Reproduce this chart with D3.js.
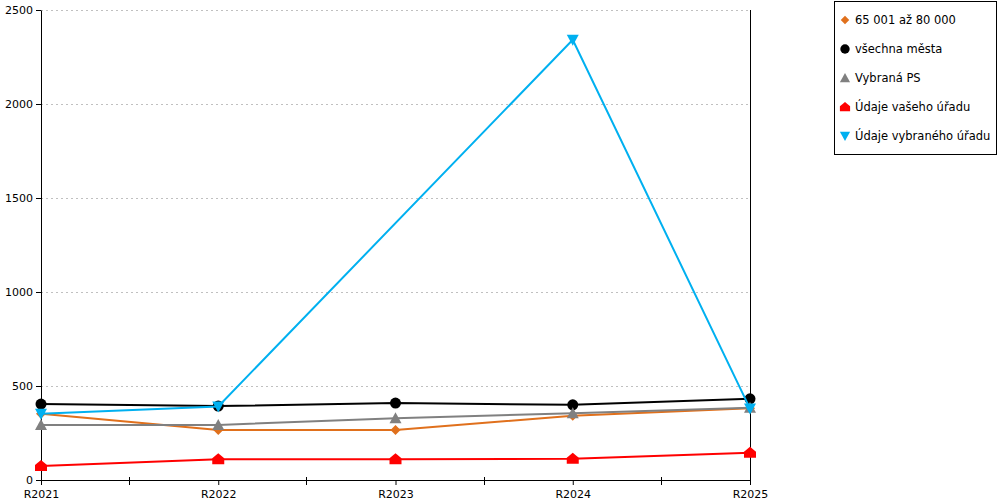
<!DOCTYPE html>
<html><head><meta charset="utf-8">
<script src="https://cdn.jsdelivr.net/npm/d3@7"></script>
<style>body{margin:0;background:#fff}svg{display:block;font-family:"DejaVu Sans",Verdana,sans-serif}</style>
</head><body><svg id="c" width="1000" height="500"></svg>
<script>
const categories = ["R2021","R2022","R2023","R2024","R2025"];
const seriesNames = ["65 001 až 80 000","všechna města","Vybraná PS","Údaje vašeho úřadu","Údaje vybraného úřadu"];
const sOrange = [353, 266, 266, 342, 382];
const sBlack  = [404, 393, 409, 400, 432];
const sGray   = [293, 293, 328, 355, 384];
const sRed    = [74, 110, 110, 113, 145];
const sBlue   = [352, 391, null, 2342, 380];
const yTicks = [0,500,1000,1500,2000,2500];
const colors = ["#E0701C","#000000","#808080","#FF0000","#00B0F0"];
const symbols = ["diamond","circle","triangle","house","down"];
const allSeries = [sOrange,sBlack,sGray,sRed,sBlue];

const svg = d3.select("#c");
const L=41,R=750,T=10,B=480;
const x = d3.scalePoint().domain(categories).range([L,R]);
const y = d3.scaleLinear().domain([0,2500]).range([B,T]);

// grid
svg.append("g").selectAll("line").data(yTicks.filter(d=>d>0)).join("line")
 .attr("x1",L).attr("x2",R).attr("y1",d=>y(d)).attr("y2",d=>y(d))
 .attr("stroke","#c0c0c0").attr("stroke-dasharray","2,3").attr("shape-rendering","crispEdges");

// y axis
const ya = svg.append("g").attr("transform",`translate(${L},0)`)
 .call(d3.axisLeft(y).tickValues(yTicks).tickFormat(d3.format("d")).tickSize(5).tickSizeOuter(0).tickPadding(3));
ya.select(".domain").attr("stroke","#000");
ya.selectAll("text").attr("font-size",11).attr("font-family","DejaVu Sans").attr("fill","#000");
// right line
svg.append("line").attr("x1",R).attr("x2",R).attr("y1",T).attr("y2",B).attr("stroke","#000").attr("shape-rendering","crispEdges");

// x axis
const xa = svg.append("g").attr("transform",`translate(0,${B})`).call(d3.axisBottom(x).tickSize(5).tickSizeOuter(0));
xa.select(".domain").attr("stroke","#000");
xa.selectAll("text").attr("font-size",11).attr("font-family","DejaVu Sans").attr("fill","#000").attr("y",18).attr("dy",0);
// midpoint ticks
const mids = categories.slice(1).map((c,i)=>(x(categories[i])+x(c))/2);
svg.append("g").selectAll("line").data(mids).join("line")
 .attr("x1",d=>d).attr("x2",d=>d).attr("y1",B-3).attr("y2",B+5).attr("stroke","#000").attr("shape-rendering","crispEdges");

function marker(g, type, color, cx, cy, s){
  s = s||1;
  let p;
  if(type==="circle"){ g.append("circle").attr("cx",cx).attr("cy",cy).attr("r",5.5*s).attr("fill",color); return; }
  if(type==="diamond") p=[[0,-5],[5,0],[0,5],[-5,0]];
  if(type==="triangle") p=[[0,-6],[6,5],[-6,5]];
  if(type==="down") p=[[-6,-5],[6,-5],[0,6]];
  if(type==="house") p=[[0,-6],[6,-1],[6,5],[-6,5],[-6,-1]];
  g.append("polygon").attr("points",p.map(q=>[cx+q[0]*s,cy+q[1]*s].join(",")).join(" ")).attr("fill",color);
}

const line = d3.line().x(d=>x(d.c)).y(d=>y(d.v));
allSeries.forEach((s,i)=>{
  const pts = s.map((v,j)=>({c:categories[j],v})).filter(d=>d.v!==null);
  const g = svg.append("g");
  g.append("path").datum(pts).attr("d",line).attr("fill","none").attr("stroke",colors[i]).attr("stroke-width",2);
  pts.forEach(d=>marker(g,symbols[i],colors[i],x(d.c),y(d.v)));
});

// legend
const lg = svg.append("g");
lg.append("rect").attr("x",834.5).attr("y",1.5).attr("width",162).attr("height",153).attr("fill","#fff").attr("stroke","#000");
seriesNames.forEach((n,i)=>{
  const cy = 20 + i*29;
  marker(lg,symbols[i],colors[i],845,cy,0.85);
  lg.append("text").attr("x",855).attr("y",cy+4).attr("font-size",11.5).attr("fill","#000").text(n);
});
</script></body></html>
